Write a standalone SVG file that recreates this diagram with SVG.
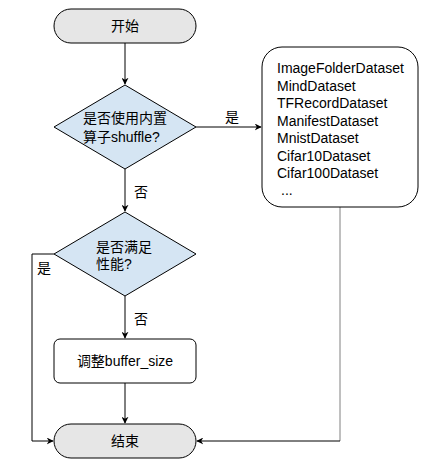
<svg xmlns="http://www.w3.org/2000/svg" width="427" height="473" viewBox="0 0 427 473">
<defs>
<style>
text{font-family:"Liberation Sans","Noto Sans CJK SC",sans-serif;font-size:14px;fill:#000}
.term{fill:#e6e6e6;stroke:#000;stroke-width:1}
.dec{fill:#d5e5f3;stroke:#000;stroke-width:1}
.proc{fill:#fff;stroke:#000;stroke-width:1}
.edge{fill:none;stroke:#000;stroke-width:1}
</style>
<marker id="arr" viewBox="0 0 10 10" refX="9" refY="5" markerWidth="7" markerHeight="7" orient="auto" markerUnits="userSpaceOnUse">
<path d="M0,0 L10,5 L0,10 L3,5 Z" fill="#000"/>
</marker>
</defs>
<rect width="427" height="473" fill="#fff"/>
<g id="connectors">
<line class="edge" x1="125" y1="43" x2="125" y2="84" marker-end="url(#arr)"/>
<line class="edge" x1="196" y1="127" x2="261" y2="127" marker-end="url(#arr)"/>
<line class="edge" x1="125" y1="169" x2="125" y2="211" marker-end="url(#arr)"/>
<line class="edge" x1="125" y1="296" x2="125" y2="338" marker-end="url(#arr)"/>
<line class="edge" x1="125" y1="383" x2="125" y2="423" marker-end="url(#arr)"/>
<path class="edge" d="M54,254 H32 V441 H53" marker-end="url(#arr)"/>
<path class="edge" d="M340,207 V441" style="stroke:#808080"/>
<path class="edge" d="M340,441 H197" marker-end="url(#arr)"/>
<text x="232" y="122" text-anchor="middle">是</text>
<text x="141" y="197" text-anchor="middle">否</text>
<text x="44" y="273" text-anchor="middle">是</text>
<text x="141" y="324" text-anchor="middle">否</text>
</g>
<g id="start">
<rect class="term" x="54" y="9" width="142" height="34" rx="17"/>
<text x="125" y="31" text-anchor="middle">开始</text>
</g>
<g id="decision1">
<polygon class="dec" points="125,85 196,127 125,169 54,127"/>
<text x="83" y="123">是否使用内置</text>
<text x="83" y="142">算子shuffle?</text>
</g>
<g id="datasets">
<rect class="proc" x="262" y="47" width="156" height="160" rx="20"/>
<text x="277" y="73">ImageFolderDataset</text>
<text x="277" y="90.5">MindDataset</text>
<text x="277" y="108">TFRecordDataset</text>
<text x="277" y="125.5">ManifestDataset</text>
<text x="277" y="143">MnistDataset</text>
<text x="277" y="160.5">Cifar10Dataset</text>
<text x="277" y="178">Cifar100Dataset</text>
<text x="281" y="195">...</text>
</g>
<g id="decision2">
<polygon class="dec" points="125,212 196,254 125,296 54,254"/>
<text x="96" y="252">是否满足</text>
<text x="96" y="269">性能?</text>
</g>
<g id="adjust">
<rect class="proc" x="54" y="339" width="142" height="44" rx="6"/>
<text x="125" y="366" text-anchor="middle">调整buffer_size</text>
</g>
<g id="end">
<rect class="term" x="54" y="424" width="142" height="34" rx="17"/>
<text x="125" y="446" text-anchor="middle">结束</text>
</g>
</svg>
